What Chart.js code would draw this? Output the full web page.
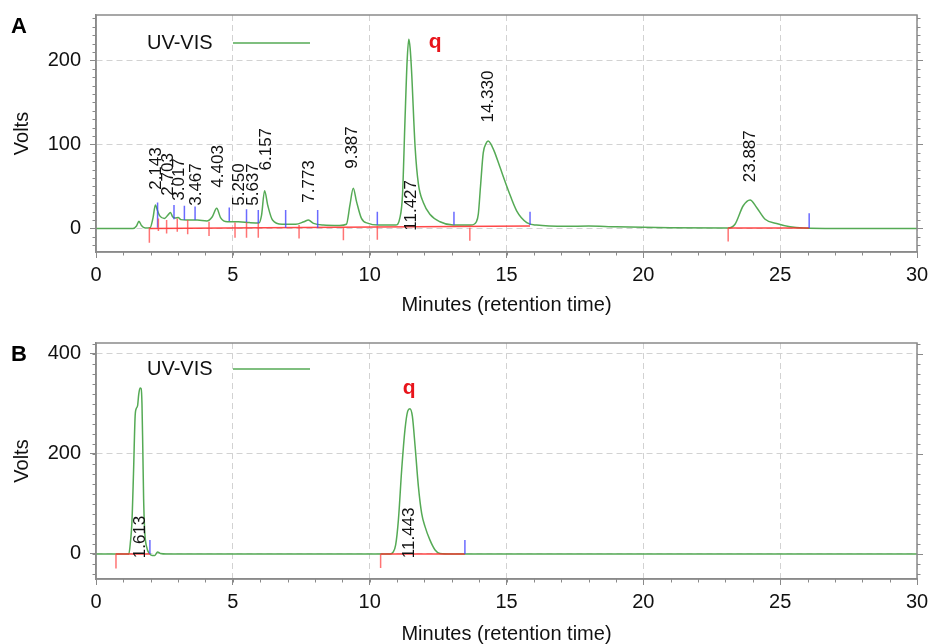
<!DOCTYPE html>
<html>
<head>
<meta charset="utf-8">
<title>Chromatograms</title>
<script src="https://cdn.jsdelivr.net/npm/chart.js@4.4.1/dist/chart.umd.min.js"></script>
<style>
  html, body { margin: 0; padding: 0; background: #fff; }
  .panel { position: absolute; left: 0; width: 930px; height: 322px; }
  #panelA { top: 0; }
  #panelB { top: 322px; }
</style>
</head>
<body>
<div class="panel" id="panelA"><canvas id="chartA" width="930" height="322"></canvas></div>
<div class="panel" id="panelB"><canvas id="chartB" width="930" height="322"></canvas></div>
<script>
// ---- Panel A: UV-VIS trace (minutes, volts)
const timeA = [0, 1.35, 1.48, 1.57, 1.66, 1.8, 1.98, 2.08, 2.17, 2.25, 2.33, 2.5, 2.63, 2.72, 2.8, 2.9, 3.0, 3.1, 3.3, 3.7,
  4.05, 4.25, 4.41, 4.55, 4.8, 5.2, 5.6, 5.95, 6.05, 6.16, 6.28, 6.45, 6.8, 7.3, 7.6, 7.76, 7.95, 8.3, 8.9, 9.15,
  9.28, 9.4, 9.52, 9.7, 9.95, 10.3, 10.95, 11.1, 11.2, 11.29, 11.37, 11.43, 11.48, 11.53, 11.66, 11.78, 11.96, 12.2, 12.57, 13.05,
  13.7, 13.9, 13.97, 14.05, 14.15, 14.25, 14.33, 14.42, 14.55, 14.76, 15.07, 15.37, 15.74, 16.1, 17.2, 18.0, 19.0, 21.0, 23.1, 23.35, 23.65,
  23.9, 24.14, 24.45, 24.87, 25.36, 25.85, 27, 30];
const voltsA = [0, 0, 3, 8.5, 3.5, 0.5, 1, 12, 28, 21, 15, 12, 16, 19, 14, 12.5, 13, 10.5, 10, 10,
  9, 14, 24, 13, 8, 8, 7, 6.5, 16, 45, 27, 10, 5, 5, 8, 10, 6, 4, 3.5, 5,
  28, 48, 32, 12, 6, 4, 4, 12, 40, 128, 200, 225, 214, 188, 97, 53, 31, 17, 8, 4,
  4, 8, 17, 50, 90, 101, 104, 101, 92, 73, 45, 21, 7, 4, 2.5, 3, 2, 1, 0.5, 5, 27,
  34, 25, 11, 6, 2, 0.5, 0, 0];

// integration baselines (red)
const baseFromTA = [1.95, 23.1];
const baseFromVA = [0, 0.5];
const baseToTA = [15.86, 26.06];
const baseToVA = [3, 0.5];

// peak start marks (red) and end marks (blue)
const startTA = [1.95, 2.28, 2.58, 2.97, 3.35, 4.13, 5.08, 5.5, 5.93, 7.42, 9.04, 10.28, 13.66, 23.1];
const startTopA = [1, 12, 10, 12, 10, 8, 7, 7, 6, 4, 1, 3, 1, 0.5];
const startBotA = [-17, -3, -6, -4, -7, -9, -11, -11, -11, -12, -14, -13.5, -14.5, -15.5];
const endTA = [2.25, 2.85, 3.23, 3.62, 4.87, 5.5, 5.93, 6.93, 8.1, 10.28, 13.08, 15.86, 26.06];
const endBotA = [1, 11, 10, 10, 9, 7.5, 6, 1, 1, 4, 4, 4, 0.5];
const endTopA = [31, 28, 27, 26, 25, 23, 22, 22, 22, 20, 20, 20, 18];

// retention time labels
const peakTextA = ['2.143', '2.703', '3.017', '3.467', '4.403', '5.250', '5.637', '6.157', '7.773', '9.387', '11.427', '14.330', '23.887'];
const peakAtTA = [2.19, 2.63, 3.03, 3.65, 4.46, 5.22, 5.74, 6.24, 7.78, 9.38, 11.51, 14.33, 23.92];
const peakAtVA = [46, 39, 33, 27, 48.5, 27, 27, 69, 30.6, 71, -2.7, 126, 55];

// ---- Panel B
const timeB = [0, 1.2, 1.26, 1.31, 1.37, 1.43, 1.47, 1.52, 1.56, 1.61, 1.65, 1.68, 1.71, 1.74, 1.78, 1.85, 1.95, 2.05, 2.15, 2.25,
  2.35, 2.6, 10.75, 10.85, 10.95, 11.05, 11.17, 11.29, 11.39, 11.47, 11.56, 11.66, 11.78, 11.9, 12.02, 12.2, 12.39, 12.57, 13.0, 30];
const voltsB = [0, 0, 25, 60, 160, 275, 290, 296, 318, 331, 330, 300, 210, 110, 45, 14, 1, -3, -3, 4,
  1, 0, 0, 3, 18, 68, 168, 248, 285, 290, 275, 215, 135, 81, 55, 28, 8, 1, 0, 0];

const baseFromTB = [0.73, 10.4];
const baseFromVB = [0, 0];
const baseToTB = [1.97, 13.48];
const baseToVB = [0, 0];

const startTB = [0.73, 10.4];
const startTopB = [1, 0];
const startBotB = [-29, -28];
const endTB = [1.97, 13.48];
const endBotB = [0, 0];
const endTopB = [28, 28];

const peakTextB = ['1.613', '11.443'];
const peakAtTB = [1.61, 11.45];
const peakAtVB = [-8.6, -8.6];

const xTicks = [0, 5, 10, 15, 20, 25, 30];
const yTicksA = [0, 100, 200];
const yTicksB = [0, 200, 400];

const FONT = '"Liberation Sans", Arial, Helvetica, sans-serif';
const FRAME = '#8a8a8a';
const GREEN = '#55aa55';

// turn x/y arrays into points
function toPoints(ts, vs) {
  return ts.map((t, i) => ({ x: t, y: vs[i] }));
}

// vertical marks / segments separated by gaps
function segments(t1, v1, t2, v2) {
  const out = [];
  t1.forEach((t, i) => {
    out.push({ x: t, y: v1[i] }, { x: t2[i], y: v2[i] }, { x: t2[i], y: null });
  });
  return out;
}

function chromPlugin(opts) {
  return {
    id: 'chrom',
    afterDatasetsDraw(chart) {
      const { ctx, scales: { x, y } } = chart;
      ctx.save();
      ctx.fillStyle = '#111';
      ctx.font = '17px ' + FONT;
      ctx.textAlign = 'left';
      ctx.textBaseline = 'middle';
      opts.text.forEach((txt, i) => {
        ctx.save();
        ctx.translate(x.getPixelForValue(opts.atT[i]), y.getPixelForValue(opts.atV[i]));
        ctx.rotate(-Math.PI / 2);
        ctx.fillText(txt, 0, 0);
        ctx.restore();
      });
      // red "q" marker
      ctx.fillStyle = '#e8141b';
      ctx.font = 'bold 21px ' + FONT;
      ctx.textAlign = 'center';
      ctx.textBaseline = 'alphabetic';
      ctx.fillText('q', x.getPixelForValue(opts.qT), y.getPixelForValue(opts.qV));
      ctx.restore();
    },
    afterDraw(chart) {
      const { ctx, chartArea: a, scales: { x, y } } = chart;
      ctx.save();
      // frame
      ctx.strokeStyle = FRAME;
      ctx.lineWidth = 1.5;
      ctx.strokeRect(a.left, a.top, a.right - a.left, a.bottom - a.top);
      // minor ticks
      ctx.lineWidth = 1;
      ctx.beginPath();
      for (let v = Math.ceil(y.min / opts.minorY) * opts.minorY; v <= y.max; v += opts.minorY) {
        const py = Math.round(y.getPixelForValue(v)) + 0.5;
        const len = v % opts.majorY === 0 ? 6 : 3.5;
        ctx.moveTo(a.left - 3.5, py); ctx.lineTo(a.left, py);
        ctx.moveTo(a.right, py); ctx.lineTo(a.right + len, py);
      }
      for (let t = 0; t <= 30; t += 1) {
        const px = Math.round(x.getPixelForValue(t)) + 0.5;
        ctx.moveTo(px, a.bottom); ctx.lineTo(px, a.bottom + 3.5);
      }
      ctx.stroke();
      // legend
      const ly = a.top + opts.legendDy;
      ctx.fillStyle = '#111';
      ctx.font = '20px ' + FONT;
      ctx.textAlign = 'left';
      ctx.textBaseline = 'middle';
      ctx.fillText('UV-VIS', a.left + 51, ly);
      ctx.strokeStyle = GREEN;
      ctx.lineWidth = 1.5;
      ctx.beginPath();
      ctx.moveTo(a.left + 137, ly);
      ctx.lineTo(a.left + 214, ly);
      ctx.stroke();
      // panel letter
      ctx.font = 'bold 22px ' + FONT;
      ctx.fillStyle = '#000';
      ctx.fillText(opts.letter, 11, a.top + 12);
      ctx.restore();
    }
  };
}

function makeChart(id, p) {
  const tickFont = { size: 20, family: FONT };
  const gridOpts = { color: '#d2d2d2', lineWidth: 1, tickLength: 6, tickColor: FRAME, tickWidth: 1 };
  const borderOpts = { display: true, color: FRAME, width: 1.5, dash: [6, 4] };
  return new Chart(document.getElementById(id), {
    type: 'line',
    data: {
      datasets: [
        { data: segments(p.bFromT, p.bFromV, p.bToT, p.bToV), borderColor: 'rgba(255,40,40,0.85)', borderWidth: 1.5, order: 1 },
        { data: toPoints(p.t, p.v), borderColor: GREEN, borderWidth: 1.5, cubicInterpolationMode: 'monotone', order: 2 },
        { data: segments(p.sT, p.sTop, p.sT, p.sBot), borderColor: 'rgba(255,70,70,0.75)', borderWidth: 1.5, order: 0 },
        { data: segments(p.eT, p.eBot, p.eT, p.eTop), borderColor: 'rgba(70,70,255,0.8)', borderWidth: 1.5, order: 0 }
      ]
    },
    options: {
      responsive: false,
      animation: false,
      spanGaps: false,
      elements: { point: { radius: 0 } },
      layout: { padding: { top: p.padTop, right: 13, left: 0, bottom: 0 } },
      plugins: { legend: { display: false }, tooltip: { enabled: false } },
      scales: {
        x: {
          type: 'linear', min: 0, max: 30,
          afterBuildTicks: s => { s.ticks = xTicks.map(v => ({ value: v })); },
          ticks: { font: tickFont, color: '#111', padding: 5, maxRotation: 0 },
          grid: gridOpts, border: borderOpts,
          title: { display: true, text: 'Minutes (retention time)', font: { size: 20, family: FONT, lineHeight: 1 }, color: '#111', padding: { bottom: p.titlePad } },
          afterFit: s => { s.height = p.xHeight; s.paddingLeft = 0; s.paddingRight = 0; }
        },
        y: {
          min: p.yMin, max: p.yMax,
          afterBuildTicks: s => { s.ticks = p.yTicks.map(v => ({ value: v })); },
          ticks: { font: tickFont, color: '#111', padding: 9 },
          grid: gridOpts, border: borderOpts,
          title: { display: true, text: 'Volts', font: { size: 20, family: FONT, lineHeight: 1 }, color: '#111', padding: { top: 12 } },
          afterFit: s => { s.width = 96; s.paddingTop = 0; s.paddingBottom = 0; }
        }
      }
    },
    plugins: [chromPlugin(p.ann)]
  });
}

makeChart('chartA', {
  t: timeA, v: voltsA,
  bFromT: baseFromTA, bFromV: baseFromVA, bToT: baseToTA, bToV: baseToVA,
  sT: startTA, sTop: startTopA, sBot: startBotA,
  eT: endTA, eBot: endBotA, eTop: endTopA,
  yMin: -28, yMax: 254, yTicks: yTicksA,
  padTop: 15, xHeight: 70, titlePad: 7,
  ann: { text: peakTextA, atT: peakAtTA, atV: peakAtVA, qT: 12.39, qV: 215, minorY: 10, majorY: 100, legendDy: 28, letter: 'A' }
});

makeChart('chartB', {
  t: timeB, v: voltsB,
  bFromT: baseFromTB, bFromV: baseFromVB, bToT: baseToTB, bToV: baseToVB,
  sT: startTB, sTop: startTopB, sBot: startBotB,
  eT: endTB, eBot: endBotB, eTop: endTopB,
  yMin: -50, yMax: 421, yTicks: yTicksB,
  padTop: 21, xHeight: 65, titlePad: 0,
  ann: { text: peakTextB, atT: peakAtTB, atV: peakAtVB, qT: 11.44, qV: 320, minorY: 20, majorY: 200, legendDy: 26, letter: 'B' }
});
</script>
</body>
</html>
